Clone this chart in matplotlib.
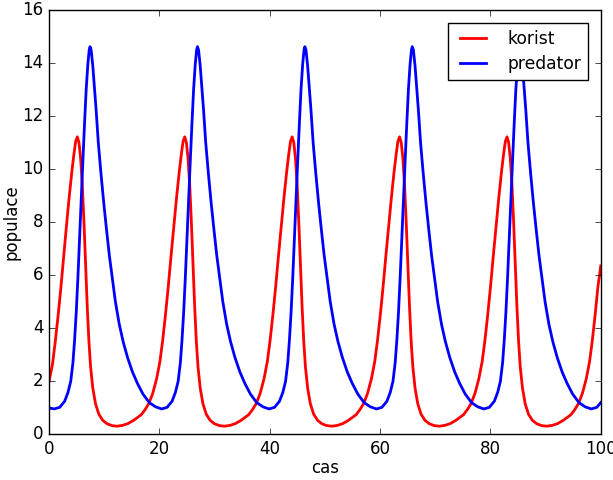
import matplotlib
matplotlib.use("Agg")
import matplotlib.pyplot as plt

# values (time, population)
cas_korist = [
    0.00, 0.63, 1.13, 1.63, 2.13, 2.63, 3.13, 3.63, 4.13, 4.53, 4.83, 5.13,
    5.43, 5.73, 6.03, 6.33, 6.63, 6.93, 7.23, 7.53, 7.93, 8.43, 9.03, 9.73,
    10.53, 11.43, 12.33, 13.33, 14.33, 15.33, 16.13,
    16.70, 17.40, 18.10, 18.80, 19.50, 20.10, 20.60, 21.10, 21.60, 22.10, 22.60,
    23.10, 23.60, 24.00, 24.30, 24.60, 24.90, 25.20, 25.50, 25.80, 26.10, 26.40,
    26.70, 27.00, 27.40, 27.90, 28.50, 29.20, 30.00, 30.90, 31.80, 32.80, 33.80,
    34.80, 35.60,
    36.17, 36.87, 37.57, 38.27, 38.97, 39.57, 40.07, 40.57, 41.07, 41.57, 42.07,
    42.57, 43.07, 43.47, 43.77, 44.07, 44.37, 44.67, 44.97, 45.27, 45.57, 45.87,
    46.17, 46.47, 46.87, 47.37, 47.97, 48.67, 49.47, 50.37, 51.27, 52.27, 53.27,
    54.27, 55.07,
    55.64, 56.34, 57.04, 57.74, 58.44, 59.04, 59.54, 60.04, 60.54, 61.04, 61.54,
    62.04, 62.54, 62.94, 63.24, 63.54, 63.84, 64.14, 64.44, 64.74, 65.04, 65.34,
    65.64, 65.94, 66.34, 66.84, 67.44, 68.14, 68.94, 69.84, 70.74, 71.74, 72.74,
    73.74, 74.54,
    75.11, 75.81, 76.51, 77.21, 77.91, 78.51, 79.01, 79.51, 80.01, 80.51, 81.01,
    81.51, 82.01, 82.41, 82.71, 83.01, 83.31, 83.61, 83.91, 84.21, 84.51, 84.81,
    85.11, 85.41, 85.81, 86.31, 86.91, 87.61, 88.41, 89.31, 90.21, 91.21, 92.21,
    93.21, 94.01,
    94.58, 95.28, 95.98, 96.68, 97.38, 97.98, 98.48, 98.98, 99.48, 100.00,
]
korist = [
    2.0, 2.65, 3.5, 4.45, 5.5, 6.65, 7.8, 8.9, 9.9, 10.6, 11.05, 11.22,
    11.0, 10.4, 9.4, 8.0, 6.4, 4.8, 3.5, 2.55, 1.75, 1.15, 0.76, 0.53,
    0.40, 0.33, 0.31, 0.34, 0.41, 0.53, 0.65,
    0.74, 0.93, 1.17, 1.55, 2.1, 2.75, 3.55, 4.5, 5.55, 6.7, 7.8,
    8.9, 9.9, 10.6, 11.05, 11.22, 11.0, 10.4, 9.4, 8.0, 6.4, 4.8,
    3.5, 2.55, 1.75, 1.15, 0.76, 0.53, 0.40, 0.33, 0.31, 0.34, 0.41,
    0.53, 0.65,
    0.74, 0.93, 1.17, 1.55, 2.1, 2.75, 3.55, 4.5, 5.55, 6.7, 7.8,
    8.9, 9.9, 10.6, 11.05, 11.22, 11.0, 10.4, 9.4, 8.0, 6.4, 4.8,
    3.5, 2.55, 1.75, 1.15, 0.76, 0.53, 0.40, 0.33, 0.31, 0.34, 0.41,
    0.53, 0.65,
    0.74, 0.93, 1.17, 1.55, 2.1, 2.75, 3.55, 4.5, 5.55, 6.7, 7.8,
    8.9, 9.9, 10.6, 11.05, 11.22, 11.0, 10.4, 9.4, 8.0, 6.4, 4.8,
    3.5, 2.55, 1.75, 1.15, 0.76, 0.53, 0.40, 0.33, 0.31, 0.34, 0.41,
    0.53, 0.65,
    0.74, 0.93, 1.17, 1.55, 2.1, 2.75, 3.55, 4.5, 5.55, 6.7, 7.8,
    8.9, 9.9, 10.6, 11.05, 11.22, 11.0, 10.4, 9.4, 8.0, 6.4, 4.8,
    3.5, 2.55, 1.75, 1.15, 0.76, 0.53, 0.40, 0.33, 0.31, 0.34, 0.41,
    0.53, 0.65,
    0.74, 0.93, 1.17, 1.55, 2.1, 2.75, 3.55, 4.5, 5.55, 6.35,
]

cas_predator = [
    0.00, 0.93, 1.93, 2.83, 3.43, 3.93, 4.33, 4.63, 4.93, 5.23, 5.53, 5.83,
    6.13, 6.43, 6.73, 7.03, 7.28, 7.43, 7.63, 7.93, 8.23, 8.53, 8.93, 9.43,
    9.93, 10.43, 10.93, 11.43, 12.03, 12.73, 13.43, 14.23, 15.13, 16.03, 17.03,
    18.03,
    18.30, 19.30, 20.40, 21.40, 22.30, 22.90, 23.40, 23.80, 24.10, 24.40, 24.70,
    25.00, 25.30, 25.60, 25.90, 26.20, 26.50, 26.75, 26.90, 27.10, 27.40, 27.70,
    28.00, 28.40, 28.90, 29.40, 29.90, 30.40, 30.90, 31.50, 32.20, 32.90, 33.70,
    34.60, 35.50, 36.50, 37.50,
    37.77, 38.77, 39.87, 40.87, 41.77, 42.37, 42.87, 43.27, 43.57, 43.87, 44.17,
    44.47, 44.77, 45.07, 45.37, 45.67, 45.97, 46.22, 46.37, 46.57, 46.87, 47.17,
    47.47, 47.87, 48.37, 48.87, 49.37, 49.87, 50.37, 50.97, 51.67, 52.37, 53.17,
    54.07, 54.97, 55.97, 56.97,
    57.24, 58.24, 59.34, 60.34, 61.24, 61.84, 62.34, 62.74, 63.04, 63.34, 63.64,
    63.94, 64.24, 64.54, 64.84, 65.14, 65.44, 65.69, 65.84, 66.04, 66.34, 66.64,
    66.94, 67.34, 67.84, 68.34, 68.84, 69.34, 69.84, 70.44, 71.14, 71.84, 72.64,
    73.54, 74.44, 75.44, 76.44,
    76.71, 77.71, 78.81, 79.81, 80.71, 81.31, 81.81, 82.21, 82.51, 82.81, 83.11,
    83.41, 83.71, 84.01, 84.31, 84.61, 84.91, 85.16, 85.31, 85.51, 85.81, 86.11,
    86.41, 86.81, 87.31, 87.81, 88.31, 88.81, 89.31, 89.91, 90.61, 91.31, 92.11,
    93.01, 93.91, 94.91, 95.91,
    96.18, 97.18, 98.28, 99.28, 100.00,
]
predator = [
    1.0, 0.96, 1.02, 1.25, 1.58, 2.0, 2.7, 3.55, 4.6, 5.9, 7.4, 8.85,
    10.3, 11.7, 13.0, 13.95, 14.5, 14.62, 14.5, 13.9, 13.1, 12.25, 11.0, 9.8,
    8.7, 7.7, 6.75, 5.95, 5.0, 4.15, 3.5, 2.9, 2.35, 1.92, 1.52,
    1.24,
    1.18, 1.04, 0.96, 1.02, 1.25, 1.58, 2.0, 2.7, 3.55, 4.6, 5.9,
    7.4, 8.85, 10.3, 11.7, 13.0, 13.95, 14.5, 14.62, 14.5, 13.9, 13.1,
    12.25, 11.0, 9.8, 8.7, 7.7, 6.75, 5.95, 5.0, 4.15, 3.5, 2.9,
    2.35, 1.92, 1.52, 1.24,
    1.18, 1.04, 0.96, 1.02, 1.25, 1.58, 2.0, 2.7, 3.55, 4.6, 5.9,
    7.4, 8.85, 10.3, 11.7, 13.0, 13.95, 14.5, 14.62, 14.5, 13.9, 13.1,
    12.25, 11.0, 9.8, 8.7, 7.7, 6.75, 5.95, 5.0, 4.15, 3.5, 2.9,
    2.35, 1.92, 1.52, 1.24,
    1.18, 1.04, 0.96, 1.02, 1.25, 1.58, 2.0, 2.7, 3.55, 4.6, 5.9,
    7.4, 8.85, 10.3, 11.7, 13.0, 13.95, 14.5, 14.62, 14.5, 13.9, 13.1,
    12.25, 11.0, 9.8, 8.7, 7.7, 6.75, 5.95, 5.0, 4.15, 3.5, 2.9,
    2.35, 1.92, 1.52, 1.24,
    1.18, 1.04, 0.96, 1.02, 1.25, 1.58, 2.0, 2.7, 3.55, 4.6, 5.9,
    7.4, 8.85, 10.3, 11.7, 13.0, 13.95, 14.5, 14.62, 14.5, 13.9, 13.1,
    12.25, 11.0, 9.8, 8.7, 7.7, 6.75, 5.95, 5.0, 4.15, 3.5, 2.9,
    2.35, 1.92, 1.52, 1.24,
    1.18, 1.04, 0.96, 1.02, 1.2,
]

plt.style.use('classic')
fig = plt.figure(figsize=(6.13, 4.8), dpi=100, facecolor='white')
ax = fig.add_axes([0.080, 0.095, 0.900, 0.884])

ax.plot(cas_korist, korist, color='red', lw=2, label='korist')
ax.plot(cas_predator, predator, color='blue', lw=2, label='predator')

ax.set_xlim(0, 100)
ax.set_ylim(0, 16)
ax.set_xticks([0, 20, 40, 60, 80, 100])
ax.set_yticks(range(0, 17, 2))
ax.tick_params(labelsize=12)
ax.set_xlabel('cas', fontsize=12, labelpad=1)
ax.set_ylabel('populace', fontsize=12, labelpad=1)
ax.legend(loc='upper right', fontsize=12.3, handlelength=2.1,
          handletextpad=0.95, borderaxespad=0.75, labelspacing=0.45)

fig.savefig('out.png', dpi=100, facecolor='white')
